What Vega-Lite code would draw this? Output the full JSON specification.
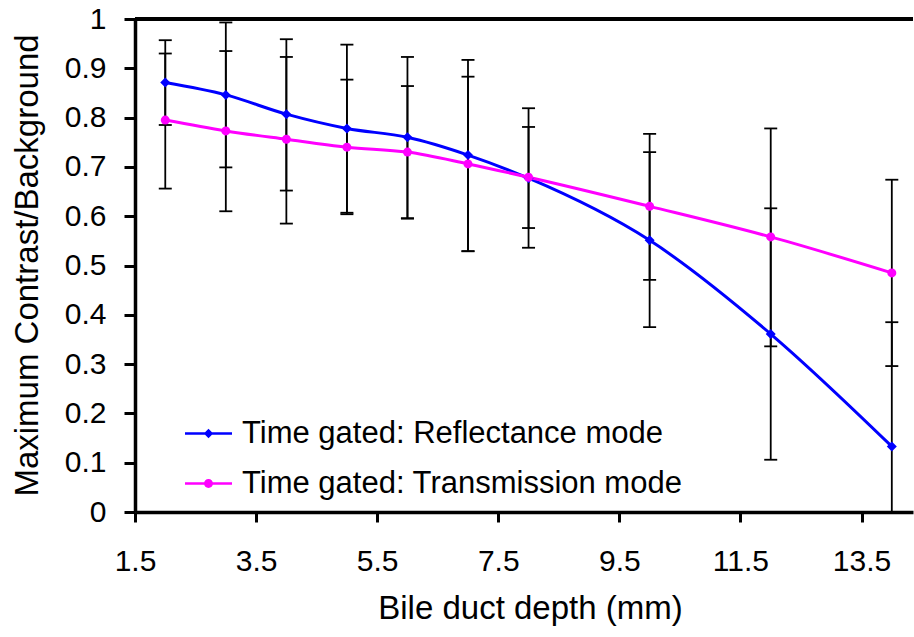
{
  "$schema": "https://vega.github.io/schema/vega-lite/v6.json",
  "width": 778,
  "height": 493,
  "autosize": {"type": "none"},
  "padding": {"left": 135, "top": 19, "right": 1, "bottom": 125},
  "background": "white",
  "config": {
    "font": "Liberation Sans",
    "view": {"stroke": null},
    "axis": {"grid": false, "labelColor": "black", "titleColor": "black", "domainColor": "black", "tickColor": "black", "labelFont": "Liberation Sans", "titleFont": "Liberation Sans", "titleFontWeight": "normal", "labelFlush": false, "labelOverlap": false}
  },
  "data": {
    "values": [
      {"series": "Time gated: Reflectance mode", "depth": 2, "v": 0.871, "lo": 0.785, "hi": 0.957},
      {"series": "Time gated: Reflectance mode", "depth": 3, "v": 0.846, "lo": 0.699, "hi": 0.993},
      {"series": "Time gated: Reflectance mode", "depth": 4, "v": 0.807, "lo": 0.652, "hi": 0.959},
      {"series": "Time gated: Reflectance mode", "depth": 5, "v": 0.778, "lo": 0.607, "hi": 0.948},
      {"series": "Time gated: Reflectance mode", "depth": 6, "v": 0.760, "lo": 0.595, "hi": 0.923},
      {"series": "Time gated: Reflectance mode", "depth": 7, "v": 0.724, "lo": 0.529, "hi": 0.917},
      {"series": "Time gated: Reflectance mode", "depth": 8, "v": 0.677, "lo": 0.536, "hi": 0.819},
      {"series": "Time gated: Reflectance mode", "depth": 10, "v": 0.551, "lo": 0.375, "hi": 0.730},
      {"series": "Time gated: Reflectance mode", "depth": 12, "v": 0.361, "lo": 0.106, "hi": 0.616},
      {"series": "Time gated: Reflectance mode", "depth": 14, "v": 0.133, "lo": -0.12, "hi": 0.385},
      {"series": "Time gated: Transmission mode", "depth": 2, "v": 0.795, "lo": 0.656, "hi": 0.930},
      {"series": "Time gated: Transmission mode", "depth": 3, "v": 0.773, "lo": 0.610, "hi": 0.935},
      {"series": "Time gated: Transmission mode", "depth": 4, "v": 0.756, "lo": 0.585, "hi": 0.923},
      {"series": "Time gated: Transmission mode", "depth": 5, "v": 0.740, "lo": 0.604, "hi": 0.877},
      {"series": "Time gated: Transmission mode", "depth": 6, "v": 0.730, "lo": 0.596, "hi": 0.864},
      {"series": "Time gated: Transmission mode", "depth": 7, "v": 0.706, "lo": 0.529, "hi": 0.883},
      {"series": "Time gated: Transmission mode", "depth": 8, "v": 0.679, "lo": 0.576, "hi": 0.781},
      {"series": "Time gated: Transmission mode", "depth": 10, "v": 0.620, "lo": 0.471, "hi": 0.767},
      {"series": "Time gated: Transmission mode", "depth": 12, "v": 0.558, "lo": 0.336, "hi": 0.778},
      {"series": "Time gated: Transmission mode", "depth": 14, "v": 0.485, "lo": 0.296, "hi": 0.674}
    ]
  },
  "encoding": {
    "x": {
      "field": "depth", "type": "quantitative",
      "scale": {"domain": [1.5, 14.35], "nice": false, "zero": false},
      "axis": {
        "title": "Bile duct depth (mm)",
        "values": [1.5, 3.5, 5.5, 7.5, 9.5, 11.5, 13.5],
        "format": ".1f",
        "labelFontSize": 30,
        "titleFontSize": 33,
        "domainWidth": 3.5,
        "tickWidth": 3,
        "tickSize": 10,
        "labelPadding": 24,
        "titleX": 395,
        "titleY": 106,
        "titleAlign": "center",
        "titleBaseline": "alphabetic",
        "titleAnchor": null
      }
    }
  },
  "layer": [
    {
      "mark": {"type": "rule", "color": "black", "strokeWidth": 3},
      "encoding": {"x": null, "y": {"datum": 1, "type": "quantitative"}}
    },
    {
      "mark": {"type": "rule", "color": "black", "strokeWidth": 1.8, "clip": true},
      "encoding": {
        "y": {"field": "lo", "type": "quantitative"},
        "y2": {"field": "hi"}
      }
    },
    {
      "mark": {"type": "tick", "color": "black", "thickness": 1.8, "size": 13, "orient": "horizontal", "clip": true, "opacity": 1},
      "encoding": {"y": {"field": "lo", "type": "quantitative"}}
    },
    {
      "mark": {"type": "tick", "color": "black", "thickness": 1.8, "size": 13, "orient": "horizontal", "clip": true, "opacity": 1},
      "encoding": {"y": {"field": "hi", "type": "quantitative"}}
    },
    {
      "mark": {"type": "line", "strokeWidth": 3, "interpolate": "monotone"},
      "encoding": {
        "y": {
          "field": "v", "type": "quantitative",
          "scale": {"domain": [0, 1], "nice": false},
          "axis": {
            "title": "Maximum Contrast/Background",
            "values": [0, 0.1, 0.2, 0.3, 0.4, 0.5, 0.6, 0.7, 0.8, 0.9, 1],
            "format": ".1~f",
            "labelFontSize": 30,
            "titleFontSize": 33,
            "domainWidth": 3.5,
            "tickWidth": 3,
            "tickSize": 11,
            "labelPadding": 18,
            "titleX": -98,
            "titleY": 246,
            "titleAngle": -90,
            "titleAlign": "center",
            "titleBaseline": "alphabetic",
            "titleAnchor": null
          }
        },
        "color": {
          "field": "series", "type": "nominal",
          "scale": {"domain": ["Time gated: Reflectance mode", "Time gated: Transmission mode"], "range": ["#0000FF", "#FF00FF"]},
          "legend": {
            "title": null,
            "orient": "none",
            "legendX": 50,
            "legendY": 391,
            "padding": 0,
            "labelFontSize": 31,
            "labelFont": "Liberation Sans",
            "labelColor": "black",
            "labelLimit": 700,
            "labelOffset": 10,
            "rowPadding": 11,
            "symbolSize": 2209,
            "symbolStrokeWidth": 0,
            "encode": {
              "symbols": {
                "update": {
                  "shape": {"signal": "datum.value == 'Time gated: Reflectance mode' ? 'M-1,-0.05H1V0.05H-1ZM0,-0.2L0.2,0L0,0.2L-0.2,0Z' : 'M-1,-0.05H1V0.05H-1ZM0.19,0A0.19,0.19,0,1,1,-0.19,0A0.19,0.19,0,1,1,0.19,0Z'"},
                  "fill": {"signal": "datum.value == 'Time gated: Reflectance mode' ? '#0000FF' : '#FF00FF'"},
                  "stroke": {"signal": "datum.value == 'Time gated: Reflectance mode' ? '#0000FF' : '#FF00FF'"},
                  "strokeWidth": {"value": 0},
                  "size": {"value": 2209},
                  "opacity": {"value": 1},
                  "fillOpacity": {"value": 1}
                }
              }
            }
          }
        }
      }
    },
    {
      "transform": [{"filter": "datum.series == 'Time gated: Reflectance mode'"}],
      "mark": {"type": "point", "filled": true, "opacity": 1, "shape": "diamond", "size": 100, "color": "#0000FF"},
      "encoding": {"y": {"field": "v", "type": "quantitative"}}
    },
    {
      "transform": [{"filter": "datum.series == 'Time gated: Transmission mode'"}],
      "mark": {"type": "point", "filled": true, "opacity": 1, "shape": "circle", "size": 81, "color": "#FF00FF"},
      "encoding": {"y": {"field": "v", "type": "quantitative"}}
    }
  ]
}
